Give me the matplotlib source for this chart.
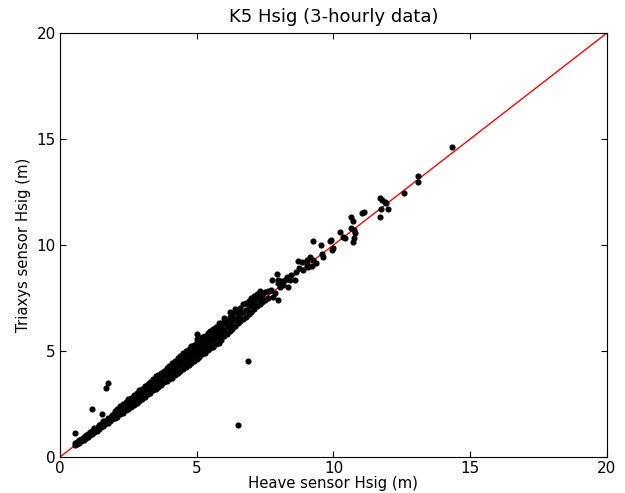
import numpy as np
from matplotlib import pyplot as plt

# dense band, low end (Heave vs Triaxys Hsig, m)
heave_a = [0.55, 0.55, 0.62, 0.62, 0.7, 0.7, 0.78, 0.78, 0.86, 0.86,
           0.94, 0.94, 0.94, 1.02, 1.02, 1.1, 1.1, 1.1, 1.18, 1.18,
           1.26, 1.26, 1.26, 1.34, 1.34, 1.42, 1.42, 1.42, 1.5, 1.5,
           1.58, 1.58, 1.58, 1.66, 1.66, 1.74, 1.74, 1.74, 1.82, 1.82,
           1.9, 1.9, 1.9, 1.98, 1.98]
triax_a = [0.58, 0.66, 0.62, 0.7, 0.68, 0.78, 0.74, 0.85, 0.82, 0.93,
           0.88, 1.0, 1.05, 0.96, 1.08, 1.02, 1.14, 1.2, 1.1, 1.22,
           1.18, 1.3, 1.36, 1.25, 1.38, 1.32, 1.45, 1.52, 1.4, 1.54,
           1.48, 1.6, 1.68, 1.55, 1.7, 1.62, 1.76, 1.84, 1.7, 1.86,
           1.78, 1.92, 2.0, 1.85, 2.02]

# dense band, 2-4 m
heave_b = [2.0, 2.0, 2.0, 2.1, 2.1, 2.1, 2.2, 2.2, 2.2, 2.3, 2.3, 2.3,
           2.4, 2.4, 2.4, 2.5, 2.5, 2.5, 2.6, 2.6, 2.6, 2.7, 2.7, 2.7,
           2.8, 2.8, 2.8, 2.9, 2.9, 2.9, 3.0, 3.0, 3.0, 3.1, 3.1, 3.1,
           3.2, 3.2, 3.2, 3.3, 3.3, 3.3, 3.4, 3.4, 3.4, 3.5, 3.5, 3.5,
           3.6, 3.6, 3.6, 3.7, 3.7, 3.7, 3.8, 3.8, 3.8, 3.9, 3.9, 3.9]
triax_b = [1.84, 2.0, 2.18, 1.9, 2.12, 2.28, 2.02, 2.18, 2.4, 2.08, 2.3, 2.5,
           2.2, 2.4, 2.6, 2.27, 2.5, 2.72, 2.38, 2.6, 2.8, 2.45, 2.7, 2.94,
           2.56, 2.8, 3.0, 2.64, 2.9, 3.14, 2.76, 3.0, 3.22, 2.83, 3.1, 3.36,
           2.95, 3.2, 3.44, 3.02, 3.3, 3.56, 3.14, 3.4, 3.66, 3.2, 3.5, 3.8,
           3.32, 3.6, 3.86, 3.4, 3.7, 3.98, 3.52, 3.8, 4.06, 3.6, 3.9, 4.2]

# dense band, 4-6 m
heave_c = [4.0, 4.0, 4.0, 4.0, 4.1, 4.1, 4.1, 4.1, 4.2, 4.2, 4.2, 4.2,
           4.3, 4.3, 4.3, 4.3, 4.4, 4.4, 4.4, 4.4, 4.5, 4.5, 4.5, 4.5,
           4.6, 4.6, 4.6, 4.6, 4.7, 4.7, 4.7, 4.7, 4.8, 4.8, 4.8, 4.8,
           4.9, 4.9, 4.9, 4.9, 5.0, 5.0, 5.0, 5.0, 5.1, 5.1, 5.1, 5.1,
           5.2, 5.2, 5.2, 5.2, 5.3, 5.3, 5.3, 5.3, 5.4, 5.4, 5.4, 5.4,
           5.5, 5.5, 5.5, 5.5, 5.6, 5.6, 5.6, 5.6, 5.7, 5.7, 5.7, 5.7,
           5.8, 5.8, 5.8, 5.8, 5.9, 5.9, 5.9, 5.9]
triax_c = [3.68, 3.9, 4.12, 4.3, 3.75, 4.02, 4.22, 4.45, 3.88, 4.1, 4.34, 4.52,
           3.94, 4.2, 4.42, 4.68, 4.05, 4.3, 4.56, 4.76, 4.14, 4.42, 4.64, 4.9,
           4.24, 4.5, 4.74, 5.0, 4.34, 4.6, 4.86, 5.1, 4.44, 4.7, 4.96, 5.24,
           4.52, 4.8, 5.06, 5.3, 4.62, 4.9, 5.18, 5.44, 4.72, 5.0, 5.26, 5.5,
           4.84, 5.1, 5.38, 5.64, 4.9, 5.2, 5.48, 5.72, 5.04, 5.3, 5.6, 5.86,
           5.12, 5.4, 5.7, 5.94, 5.2, 5.5, 5.8, 6.06, 5.32, 5.6, 5.92, 6.14,
           5.4, 5.72, 6.0, 6.3, 5.52, 5.8, 6.12, 6.34]

# band thinning out, 6-7.6 m
heave_d = [6.0, 6.0, 6.0, 6.0, 6.1, 6.1, 6.1, 6.2, 6.2, 6.2, 6.2,
           6.3, 6.3, 6.3, 6.4, 6.4, 6.4, 6.4, 6.5, 6.5, 6.5,
           6.6, 6.6, 6.6, 6.7, 6.7, 6.7, 6.8, 6.8, 6.8, 6.9, 6.9, 6.9,
           7.0, 7.0, 7.0, 7.1, 7.1, 7.1, 7.2, 7.2, 7.2, 7.3, 7.3, 7.3,
           7.4, 7.4, 7.5, 7.5, 7.6, 7.6]
triax_d = [5.7, 6.0, 6.3, 6.55, 5.8, 6.15, 6.42, 5.95, 6.25, 6.6, 6.85,
           6.05, 6.4, 6.7, 6.2, 6.5, 6.82, 7.0, 6.3, 6.62, 6.95,
           6.42, 6.75, 7.05, 6.5, 6.85, 7.2, 6.62, 6.95, 7.28, 6.75, 7.1, 7.35,
           6.85, 7.18, 7.5, 7.0, 7.3, 7.6, 7.1, 7.45, 7.7, 7.2, 7.55, 7.82,
           7.3, 7.65, 7.4, 7.8, 7.5, 7.85]

# scattered high-sea points
heave_e = [7.7, 7.74, 7.8, 7.85, 7.92, 7.98, 7.98, 7.98, 8.04, 8.1, 8.15,
           8.23, 8.3, 8.35, 8.41, 8.43, 8.59, 8.63, 8.71, 8.75, 8.85, 8.9,
           9.02, 9.02, 9.08, 9.14, 9.2, 9.26, 9.26, 9.38, 9.53, 9.57, 9.6,
           9.87, 9.9, 9.93, 9.97, 10.24, 10.36, 10.44, 10.64, 10.65, 10.71,
           10.72, 10.75, 10.76, 10.8, 11.05, 11.13, 11.69, 11.7, 11.74,
           11.79, 11.88, 11.92, 12.0, 12.59, 13.08, 13.08, 14.32]
triax_e = [7.9, 8.35, 7.56, 7.75, 8.62, 8.35, 7.41, 8.2, 8.03, 8.3, 8.1,
           8.35, 8.5, 8.03, 8.35, 8.58, 8.35, 8.74, 9.25, 8.9, 9.2, 8.82,
           9.06, 9.29, 8.98, 9.45, 9.0, 10.19, 9.29, 9.14, 10.0, 9.58, 9.45,
           10.2, 10.24, 9.76, 9.84, 10.6, 10.39, 10.31, 10.8, 11.34, 10.13,
           11.13, 10.7, 10.35, 10.55, 11.52, 11.56, 11.3, 12.2, 11.7,
           12.12, 12.04, 12.0, 11.68, 12.44, 13.25, 12.96, 14.64]

# odd points off the line
heave_o = [0.55, 1.16, 1.52, 1.67, 1.77, 5.0, 5.0, 6.51, 6.87]
triax_o = [1.15, 2.25, 2.01, 3.24, 3.48, 5.8, 5.55, 1.51, 4.53]

heave = np.concatenate([heave_a, heave_b, heave_c, heave_d, heave_e, heave_o])
triax = np.concatenate([triax_a, triax_b, triax_c, triax_d, triax_e, triax_o])

fig = plt.figure(figsize=(6.25, 4.93), dpi=100)
ax = fig.add_axes([0.096, 0.073, 0.875, 0.86])
ax.plot([0, 20], [0, 20], 'r-', lw=1)
ax.plot(heave, triax, 'ko', ms=3.4, mec='k')
ax.set_xlim(0, 20)
ax.set_ylim(0, 20)
ax.set_xticks([0, 5, 10, 15, 20])
ax.set_yticks([0, 5, 10, 15, 20])
ax.tick_params(direction='in', top=True, right=True, length=4, labelsize=11, pad=3)
ax.set_xlabel('Heave sensor Hsig (m)', fontsize=10.7, labelpad=0)
ax.set_ylabel('Triaxys sensor Hsig (m)', fontsize=10.7)
ax.set_title('K5 Hsig (3-hourly data)', fontsize=13, pad=8)
fig.savefig('out.png')
